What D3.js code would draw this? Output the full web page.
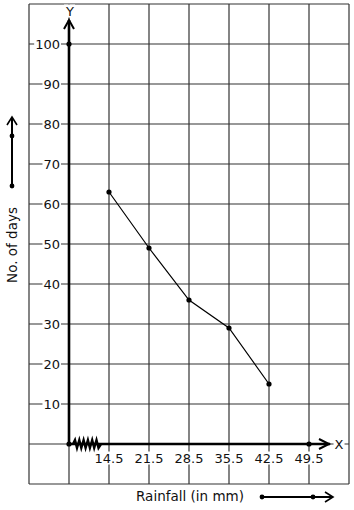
<!DOCTYPE html>
<html>
<head>
<meta charset="utf-8">
<script src="https://cdn.jsdelivr.net/npm/d3@7"></script>
<style>
  body { margin: 0; background: #fff; }
  svg text { font-family: "DejaVu Sans", sans-serif; fill: #111; }
</style>
</head>
<body>
<div id="chart"></div>
<script>
// class marks (upper limits of rainfall classes) and number of days
var rainfall = [14.5, 21.5, 28.5, 35.5, 42.5];
var days = [63, 49, 36, 29, 15];
var xTicks = [14.5, 21.5, 28.5, 35.5, 42.5, 49.5];
var yTicks = [10, 20, 30, 40, 50, 60, 70, 80, 90, 100];
var xGrid = [0.5, 7.5, 14.5, 21.5, 28.5, 35.5, 42.5, 49.5, 56.5];
var yGrid = [-10, 0, 10, 20, 30, 40, 50, 60, 70, 80, 90, 100, 110];

var width = 354, height = 510;
var x = d3.scaleLinear().domain([0.5, 56.5]).range([29, 349]);
var y = d3.scaleLinear().domain([-10, 110]).range([484, 4]);
var x0 = 7.5;

var svg = d3.select("#chart").append("svg")
  .attr("width", width).attr("height", height);

// grid
svg.append("g").selectAll("line").data(xGrid).enter().append("line")
  .attr("x1", function(d) { return x(d); }).attr("x2", function(d) { return x(d); })
  .attr("y1", y(110)).attr("y2", y(-10))
  .attr("stroke", "#333").attr("stroke-width", 1.2);
svg.append("g").selectAll("line").data(yGrid).enter().append("line")
  .attr("y1", function(d) { return y(d); }).attr("y2", function(d) { return y(d); })
  .attr("x1", x(0.5)).attr("x2", x(56.5))
  .attr("stroke", "#333").attr("stroke-width", 1.2);

// labels with white knock-out background
function label(g, txt, px, py, anchor, size) {
  var t = g.append("text").attr("x", px).attr("y", py)
    .attr("text-anchor", anchor).attr("dominant-baseline", "central")
    .style("font-size", size + "px").text(txt);
  var b = t.node().getBBox();
  g.insert("rect", function() { return t.node(); })
    .attr("x", b.x - 1).attr("y", b.y + 1).attr("width", b.width + 2).attr("height", b.height - 2)
    .attr("fill", "#fff");
  return t;
}

var labels = svg.append("g");
yTicks.forEach(function(v) {
  label(labels, v, x(x0) - 9, y(v), "end", 13);
});
xTicks.forEach(function(v) {
  label(labels, v, x(v), y(0) + 14, "middle", 13);
});
label(labels, "Y", x(x0) + 1, 11, "middle", 13);
label(labels, "X", x(56.5) - 10, y(0), "middle", 13);

// axes
var axes = svg.append("g").attr("stroke", "#000").attr("fill", "none");
axes.append("line").attr("x1", x(x0)).attr("x2", x(x0))
  .attr("y1", y(0)).attr("y2", 20).attr("stroke-width", 2.6);
axes.append("path").attr("d", "M" + (x(x0) - 5) + ",29L" + x(x0) + ",20L" + (x(x0) + 5) + ",29")
  .attr("stroke-width", 2);
axes.append("line").attr("x1", x(x0)).attr("x2", 330)
  .attr("y1", y(0)).attr("y2", y(0)).attr("stroke-width", 2.6);
axes.append("path").attr("d", "M319," + (y(0) - 5) + "L329," + y(0) + "L319," + (y(0) + 5))
  .attr("stroke-width", 2);

// break mark on x axis
var zz = "M" + (x(x0) + 4) + "," + y(0);
for (var i = 0; i < 6; i++) {
  var sx = x(x0) + 5 + i * 4.3;
  zz += "L" + (sx + 1) + "," + (y(0) - 4) + "L" + (sx + 3) + "," + (y(0) + 4);
}
zz += "L" + (x(x0) + 32) + "," + y(0);
axes.append("path").attr("d", zz).attr("stroke-width", 2.4);

// dots on axes
var axisDots = [[x(x0), y(0)], [x(x0), y(100)], [x(49.5), y(0)]];
svg.append("g").selectAll("circle").data(axisDots).enter().append("circle")
  .attr("cx", function(d) { return d[0]; }).attr("cy", function(d) { return d[1]; })
  .attr("r", 2.6).attr("fill", "#000");

// data line
var pts = rainfall.map(function(r, i) { return [r, days[i]]; });
svg.append("path").datum(pts)
  .attr("d", d3.line().x(function(d) { return x(d[0]); }).y(function(d) { return y(d[1]); }))
  .attr("fill", "none").attr("stroke", "#000").attr("stroke-width", 1.2);
svg.append("g").selectAll("circle").data(pts).enter().append("circle")
  .attr("cx", function(d) { return x(d[0]); }).attr("cy", function(d) { return y(d[1]); })
  .attr("r", 2.6).attr("fill", "#000");

// axis titles
svg.append("text").attr("transform", "translate(17,245) rotate(-90)")
  .attr("text-anchor", "middle").style("font-size", "13.5px").text("No. of days");
svg.append("text").attr("x", 190).attr("y", 501)
  .attr("text-anchor", "middle").style("font-size", "13.5px").text("Rainfall (in mm)");

// direction arrows
var dir = svg.append("g").attr("stroke", "#000").attr("fill", "none");
dir.append("line").attr("x1", 12).attr("x2", 12).attr("y1", 186).attr("y2", 117).attr("stroke-width", 2);
dir.append("path").attr("d", "M7,125L12,117L17,125").attr("stroke-width", 1.6);
dir.append("line").attr("x1", 262).attr("x2", 333).attr("y1", 497).attr("y2", 497).attr("stroke-width", 2);
dir.append("path").attr("d", "M325,492L333,497L325,502").attr("stroke-width", 1.6);
svg.append("g").selectAll("circle").data([[12, 186], [12, 136], [262, 497], [313, 497]]).enter()
  .append("circle").attr("cx", function(d) { return d[0]; }).attr("cy", function(d) { return d[1]; })
  .attr("r", 2.4).attr("fill", "#000");
</script>
</body>
</html>
